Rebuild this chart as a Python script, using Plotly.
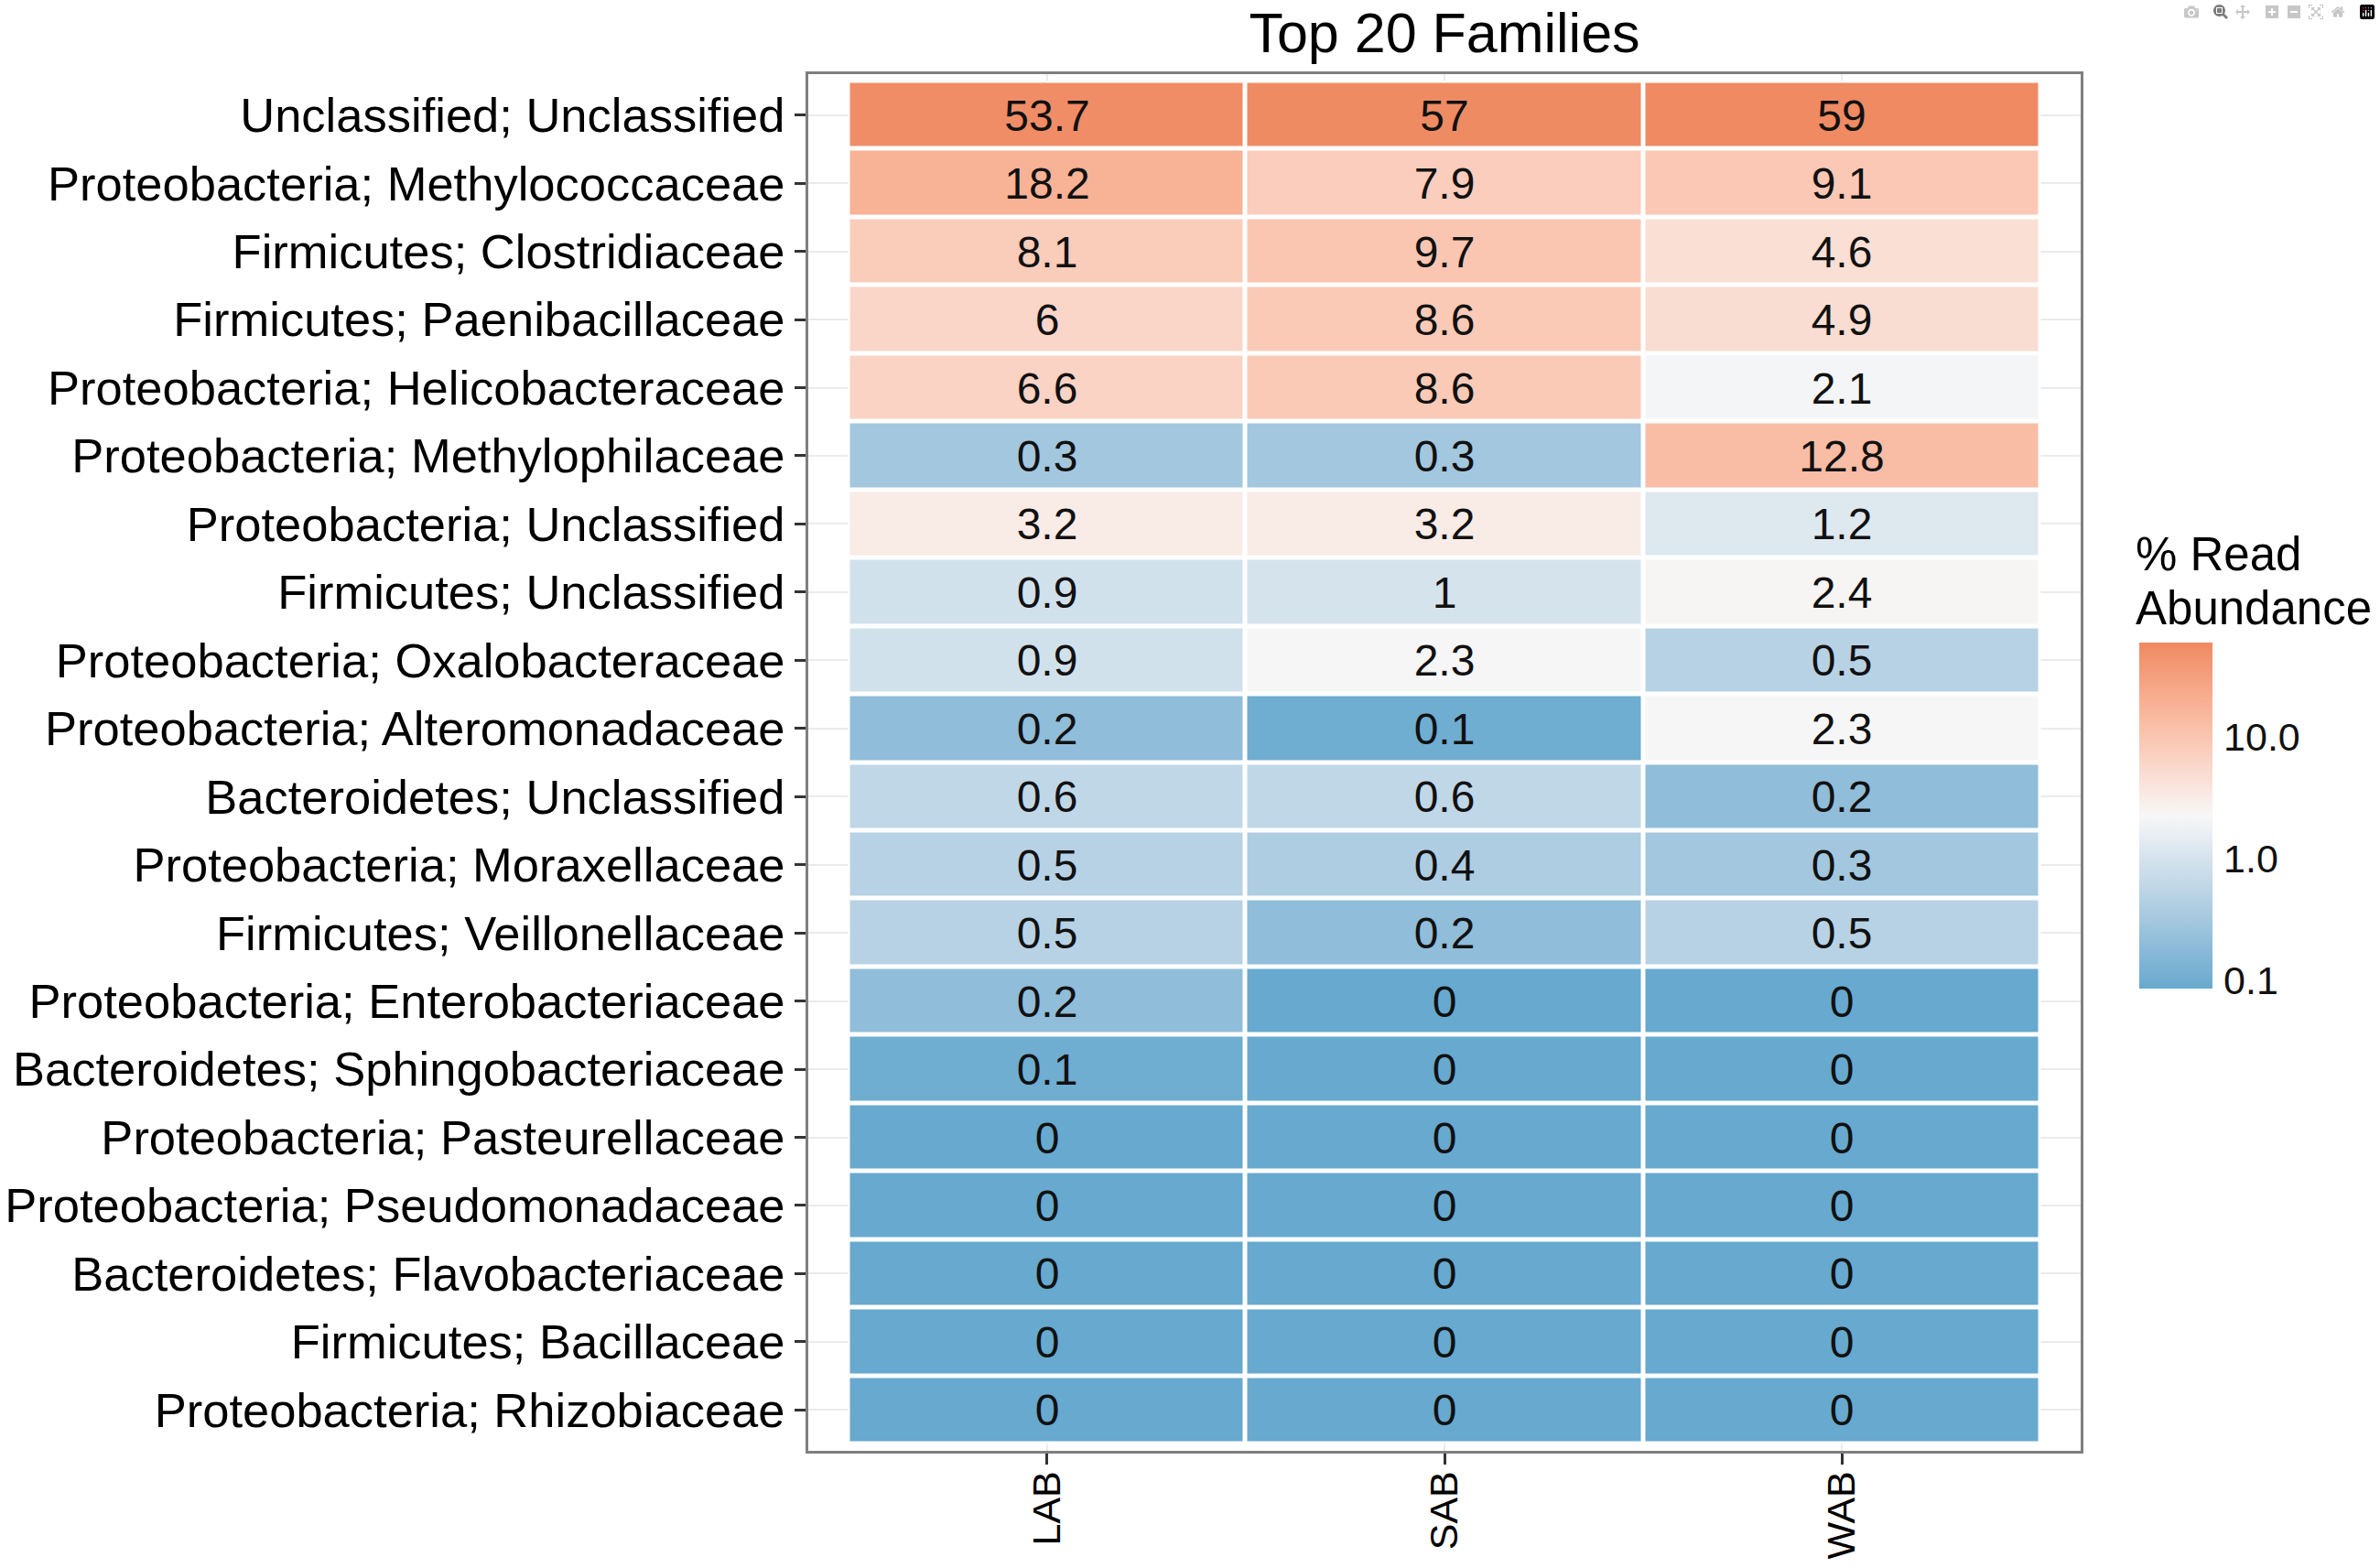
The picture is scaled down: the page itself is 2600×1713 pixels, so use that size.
import math
import plotly.graph_objects as go

# ---------------- data ----------------
families = [
    "Unclassified; Unclassified",
    "Proteobacteria; Methylococcaceae",
    "Firmicutes; Clostridiaceae",
    "Firmicutes; Paenibacillaceae",
    "Proteobacteria; Helicobacteraceae",
    "Proteobacteria; Methylophilaceae",
    "Proteobacteria; Unclassified",
    "Firmicutes; Unclassified",
    "Proteobacteria; Oxalobacteraceae",
    "Proteobacteria; Alteromonadaceae",
    "Bacteroidetes; Unclassified",
    "Proteobacteria; Moraxellaceae",
    "Firmicutes; Veillonellaceae",
    "Proteobacteria; Enterobacteriaceae",
    "Bacteroidetes; Sphingobacteriaceae",
    "Proteobacteria; Pasteurellaceae",
    "Proteobacteria; Pseudomonadaceae",
    "Bacteroidetes; Flavobacteriaceae",
    "Firmicutes; Bacillaceae",
    "Proteobacteria; Rhizobiaceae",
]
samples = ["LAB", "SAB", "WAB"]

LAB = [53.7, 18.2, 8.1, 6, 6.6, 0.3, 3.2, 0.9, 0.9, 0.2, 0.6, 0.5, 0.5, 0.2, 0.1, 0, 0, 0, 0, 0]
SAB = [57, 7.9, 9.7, 8.6, 8.6, 0.3, 3.2, 1, 2.3, 0.1, 0.6, 0.4, 0.2, 0, 0, 0, 0, 0, 0, 0]
WAB = [59, 9.1, 4.6, 4.9, 2.1, 12.8, 1.2, 2.4, 0.5, 2.3, 0.2, 0.3, 0.5, 0, 0, 0, 0, 0, 0, 0]

legend_ticks = [0.1, 1.0, 10.0]
legend_tick_text = ["0.1", "1.0", "10.0"]
scale_min = 0.086   # lower end of the log colour scale
scale_max = 59.0    # upper end of the log colour scale

# ---------------- colour helpers (Lab interpolation like ggplot) ----------------
def _hex2rgb(h):
    h = h.lstrip("#")
    return [int(h[i:i + 2], 16) / 255 for i in (0, 2, 4)]

def _lin(c):
    return c / 12.92 if c <= 0.04045 else ((c + 0.055) / 1.055) ** 2.4

def _gam(c):
    c = max(0.0, min(1.0, c))
    return 12.92 * c if c <= 0.0031308 else 1.055 * c ** (1 / 2.4) - 0.055

_WP = (0.95047, 1.0, 1.08883)

def _rgb2lab(rgb):
    r, g, b = [_lin(c) for c in rgb]
    X = 0.4124 * r + 0.3576 * g + 0.1805 * b
    Y = 0.2126 * r + 0.7152 * g + 0.0722 * b
    Z = 0.0193 * r + 0.1192 * g + 0.9505 * b
    def f(t):
        return t ** (1 / 3) if t > 0.008856 else 7.787 * t + 16 / 116
    fx, fy, fz = f(X / _WP[0]), f(Y / _WP[1]), f(Z / _WP[2])
    return (116 * fy - 16, 500 * (fx - fy), 200 * (fy - fz))

def _lab2rgb(lab):
    L, a, b = lab
    fy = (L + 16) / 116
    fx = fy + a / 500
    fz = fy - b / 200
    def fi(t):
        return t ** 3 if t ** 3 > 0.008856 else (t - 16 / 116) / 7.787
    X, Y, Z = fi(fx) * _WP[0], fi(fy) * _WP[1], fi(fz) * _WP[2]
    r = 3.2406 * X - 1.5372 * Y - 0.4986 * Z
    g = -0.9689 * X + 1.8758 * Y + 0.0415 * Z
    bb = 0.0557 * X - 0.2040 * Y + 1.0570 * Z
    return "rgb(%d,%d,%d)" % tuple(round(_gam(c) * 255) for c in (r, g, bb))

def lab_scale(c0, c1, c2, n=10):
    l0, l1, l2 = _rgb2lab(_hex2rgb(c0)), _rgb2lab(_hex2rgb(c1)), _rgb2lab(_hex2rgb(c2))
    out = []
    for k in range(n + 1):
        t = k / n
        out.append([0.5 * t, _lab2rgb([l0[i] + (l1[i] - l0[i]) * t for i in range(3)])])
    for k in range(1, n + 1):
        t = k / n
        out.append([0.5 + 0.5 * t, _lab2rgb([l1[i] + (l2[i] - l1[i]) * t for i in range(3)])])
    return out

# ---------------- build ----------------
cols = [LAB, SAB, WAB]
nrow = len(families)
xs = list(range(len(samples)))
ys = list(range(nrow))

z = [[math.log10(max(cols[j][i], scale_min)) for j in xs] for i in ys]
txt = [["{:g}".format(round(cols[j][i], 1)) for j in xs] for i in ys]
zwhite = [[0 for _ in xs] for _ in ys]

FONT = "Liberation Sans, Arial, Helvetica, sans-serif"
W, H = 2600, 1713
L, R, T, B = 883, 2600 - 2273, 81, 1713 - 1585
PW, PH = W - L - R, H - T - B

low, mid, high = "#67a9cf", "#f7f7f7", "#ef8a62"

fig = go.Figure()
# white underlay so tile borders hide the grid (like ggplot tile borders)
fig.add_trace(go.Heatmap(
    x=xs, y=ys, z=zwhite, colorscale=[[0, "white"], [1, "white"]],
    showscale=False, hoverinfo="skip", zmin=0, zmax=1,
))
fig.add_trace(go.Heatmap(
    x=xs, y=ys, z=z, text=txt, texttemplate="%{text}",
    textfont=dict(family=FONT, size=48, color="#111111"),
    colorscale=lab_scale(low, mid, high),
    zmin=math.log10(scale_min), zmax=math.log10(scale_max),
    xgap=5, ygap=5,
    colorbar=dict(
        x=(2337 - L) / PW, xanchor="left", xpad=0,
        y=1 - (891 - T) / PH, yanchor="middle", ypad=0,
        len=378, lenmode="pixels", thickness=80, thicknessmode="pixels",
        outlinewidth=0,
        tickvals=[math.log10(v) for v in legend_ticks], ticktext=legend_tick_text,
        ticks="outside", ticklen=4, tickwidth=3, tickcolor="white",
        tickfont=dict(family=FONT, size=43, color="#111111"),
    ),
))

fig.update_layout(
    width=W, height=H, autosize=False,
    margin=dict(l=L, r=R, t=T, b=B, pad=0),
    paper_bgcolor="white", plot_bgcolor="white",
    font=dict(family=FONT, color="black"),
    title=dict(text="Top 20 Families", x=0.5, xref="paper", xanchor="center",
               y=1 - 36 / H, yref="container", yanchor="middle", pad=dict(t=0, b=0),
               font=dict(family=FONT, size=61, color="black")),
    annotations=[
        dict(text="% Read", xref="paper", yref="paper", x=(2331 - L) / PW, xanchor="left",
             y=1 - (606 - T) / PH, yanchor="middle", showarrow=False,
             font=dict(family=FONT, size=51, color="black")),
        dict(text="Abundance", xref="paper", yref="paper", x=(2331 - L) / PW, xanchor="left",
             y=1 - (664 - T) / PH, yanchor="middle", showarrow=False,
             font=dict(family=FONT, size=51, color="black")),
    ],
)
fig.update_xaxes(
    range=[-0.6, 2.6], tickvals=xs, ticktext=samples, tickangle=-90,
    tickfont=dict(family=FONT, size=43, color="black"),
    ticks="outside", ticklen=12, tickwidth=3, tickcolor="#333333",
    showgrid=True, gridcolor="#ebebeb", gridwidth=2, zeroline=False,
    showline=True, mirror=True, linecolor="#7f7f7f", linewidth=3,
    ticklabelstandoff=-10, automargin=False,
)
fig.update_yaxes(
    range=[nrow - 1 + 0.6, -0.6], tickvals=ys, ticktext=families,
    tickfont=dict(family=FONT, size=52.5, color="black"),
    ticks="outside", ticklen=12, tickwidth=3, tickcolor="#333333",
    showgrid=True, gridcolor="#ebebeb", gridwidth=2, zeroline=False,
    showline=True, mirror=True, linecolor="#7f7f7f", linewidth=3,
    ticklabelstandoff=0, automargin=False,
)

fig.write_html("out.html", post_script="document.body.style.margin='0';document.body.style.overflow='hidden';")
